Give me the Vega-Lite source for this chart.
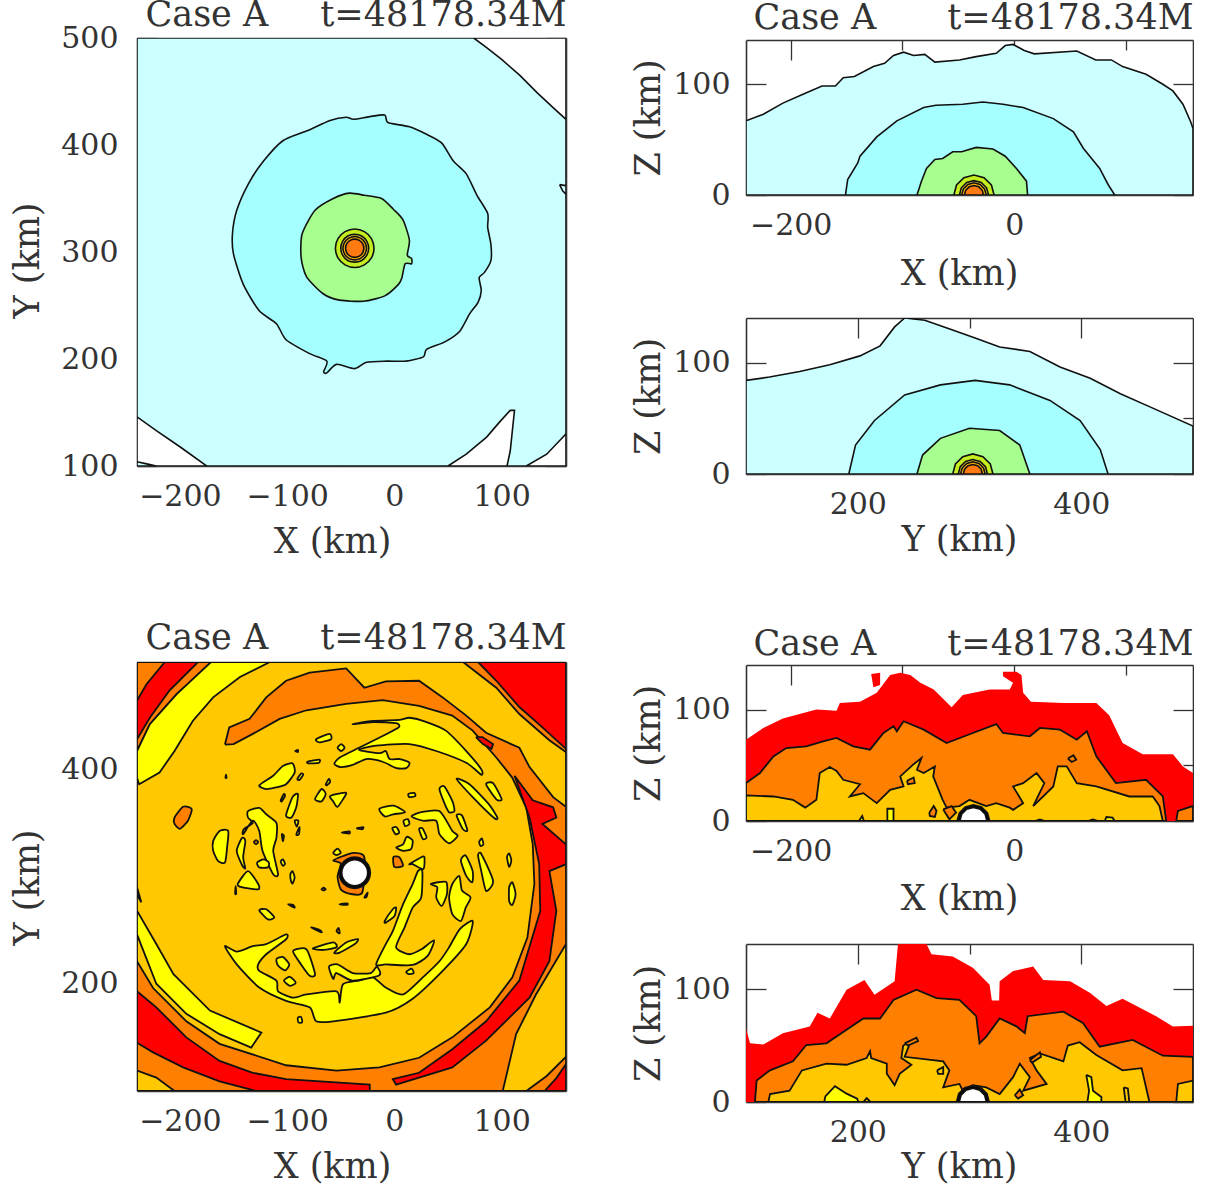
{"$schema":"https://vega.github.io/schema/vega-lite/v6.json","background":"white","padding":{"left":10,"top":-3,"right":0,"bottom":0},
"config":{"font":"DejaVu Serif","view":{"stroke":null},
"axis":{"grid":false,"domain":false,"labels":false,"tickColor":"#333","tickWidth":1.3,"domainColor":"#333","domainWidth":1.6,"labelFont":"DejaVu Serif","labelFontSize":30,"labelColor":"#333","labelPadding":35,"labelOverlap":false,"titleFont":"DejaVu Serif","titleFontSize":35,"titleFontWeight":"normal","titleColor":"#333","titlePadding":14,"zindex":1}},
"datasets":{"ax":[{"x":120,"y":120}],
"pA":[{"k":1,"c":"a","x":-240,"y":100},{"k":1,"c":"a","x":160,"y":100},{"k":1,"c":"a","x":160,"y":500},{"k":1,"c":"a","x":-240,"y":500},{"k":1,"c":"a","x":-240,"y":100},
{"k":2,"c":"w","x":74,"y":500},{"k":2,"c":"w","x":86,"y":491},{"k":2,"c":"w","x":100,"y":480},{"k":2,"c":"w","x":117,"y":465},{"k":2,"c":"w","x":133,"y":449},{"k":2,"c":"w","x":148,"y":435},{"k":2,"c":"w","x":160,"y":424},{"k":2,"c":"w","x":160,"y":500},{"k":2,"c":"w","x":74,"y":500},
{"k":3,"c":"w","x":-240,"y":146},{"k":3,"c":"w","x":-222,"y":133},{"k":3,"c":"w","x":-200,"y":118},{"k":3,"c":"w","x":-175,"y":100},{"k":3,"c":"w","x":-240,"y":100},{"k":3,"c":"w","x":-240,"y":146},
{"k":4,"c":"a","x":-240,"y":104},{"k":4,"c":"a","x":-231,"y":102},{"k":4,"c":"a","x":-222,"y":100},{"k":4,"c":"a","x":-240,"y":100},{"k":4,"c":"a","x":-240,"y":104},
{"k":5,"c":"w","x":50,"y":100},{"k":5,"c":"w","x":67,"y":111},{"k":5,"c":"w","x":86,"y":127},{"k":5,"c":"w","x":98,"y":141},{"k":5,"c":"w","x":108,"y":152},{"k":5,"c":"w","x":112,"y":152},{"k":5,"c":"w","x":110,"y":133},{"k":5,"c":"w","x":108,"y":114},{"k":5,"c":"w","x":105,"y":100},{"k":5,"c":"w","x":50,"y":100},
{"k":6,"c":"w","x":123,"y":100},{"k":6,"c":"w","x":142,"y":111},{"k":6,"c":"w","x":160,"y":130},{"k":6,"c":"w","x":160,"y":100},{"k":6,"c":"w","x":123,"y":100},
{"k":7,"c":"a","x":154,"y":363},{"k":7,"c":"a","x":160,"y":362},{"k":7,"c":"a","x":160,"y":354},{"k":7,"c":"a","x":157,"y":357},{"k":7,"c":"a","x":154,"y":363},
{"k":8,"c":"b","x":-45,"y":426},{"k":8,"c":"b","x":-38,"y":424},{"k":8,"c":"b","x":-23,"y":426.5},{"k":8,"c":"b","x":-9,"y":428},{"k":8,"c":"b","x":-6,"y":421},{"k":8,"c":"b","x":14,"y":417},{"k":8,"c":"b","x":30,"y":410},{"k":8,"c":"b","x":44,"y":402},{"k":8,"c":"b","x":55,"y":385},{"k":8,"c":"b","x":67,"y":373},{"k":8,"c":"b","x":77,"y":353},{"k":8,"c":"b","x":87,"y":336},{"k":8,"c":"b","x":87,"y":323},{"k":8,"c":"b","x":90,"y":307},{"k":8,"c":"b","x":90,"y":292},{"k":8,"c":"b","x":84,"y":281},{"k":8,"c":"b","x":79,"y":276},{"k":8,"c":"b","x":81,"y":264},{"k":8,"c":"b","x":78,"y":253},{"k":8,"c":"b","x":70,"y":242},{"k":8,"c":"b","x":61,"y":226},{"k":8,"c":"b","x":47,"y":216},{"k":8,"c":"b","x":30,"y":209},{"k":8,"c":"b","x":27,"y":202},{"k":8,"c":"b","x":11,"y":198},{"k":8,"c":"b","x":-7,"y":198},{"k":8,"c":"b","x":-26,"y":197},{"k":8,"c":"b","x":-37,"y":191},{"k":8,"c":"b","x":-54,"y":195},{"k":8,"c":"b","x":-63,"y":187},{"k":8,"c":"b","x":-66,"y":188},{"k":8,"c":"b","x":-63,"y":198},{"k":8,"c":"b","x":-79,"y":205},{"k":8,"c":"b","x":-101,"y":218},{"k":8,"c":"b","x":-110,"y":233},{"k":8,"c":"b","x":-126,"y":245},{"k":8,"c":"b","x":-141,"y":270},{"k":8,"c":"b","x":-150,"y":298},{"k":8,"c":"b","x":-151,"y":317},{"k":8,"c":"b","x":-147,"y":339},{"k":8,"c":"b","x":-136,"y":364},{"k":8,"c":"b","x":-122,"y":385},{"k":8,"c":"b","x":-104,"y":404},{"k":8,"c":"b","x":-82,"y":413},{"k":8,"c":"b","x":-60,"y":423},
{"k":9,"c":"g","x":-42,"y":355},{"k":9,"c":"g","x":-28,"y":353},{"k":9,"c":"g","x":-12,"y":350},{"k":9,"c":"g","x":-1,"y":340},{"k":9,"c":"g","x":8,"y":330},{"k":9,"c":"g","x":14,"y":311},{"k":9,"c":"g","x":12,"y":297},{"k":9,"c":"g","x":16,"y":294},{"k":9,"c":"g","x":16,"y":289},{"k":9,"c":"g","x":10,"y":289},{"k":9,"c":"g","x":7,"y":276},{"k":9,"c":"g","x":4,"y":270},{"k":9,"c":"g","x":-9,"y":259},{"k":9,"c":"g","x":-29,"y":254},{"k":9,"c":"g","x":-51,"y":255},{"k":9,"c":"g","x":-66.5,"y":261},{"k":9,"c":"g","x":-82,"y":277},{"k":9,"c":"g","x":-87,"y":295},{"k":9,"c":"g","x":-86,"y":317},{"k":9,"c":"g","x":-74,"y":339},{"k":9,"c":"g","x":-57,"y":350},
{"k":10,"c":"l","x":-19,"y":303.5},{"k":10,"c":"l","x":-21.4,"y":312.5},{"k":10,"c":"l","x":-28,"y":319},{"k":10,"c":"l","x":-37,"y":321.5},{"k":10,"c":"l","x":-46,"y":319},{"k":10,"c":"l","x":-52.6,"y":312.5},{"k":10,"c":"l","x":-55,"y":303.5},{"k":10,"c":"l","x":-52.6,"y":294.5},{"k":10,"c":"l","x":-46,"y":288},{"k":10,"c":"l","x":-37,"y":285.5},{"k":10,"c":"l","x":-28,"y":288},{"k":10,"c":"l","x":-21.4,"y":294.5},
{"k":11,"c":"t","x":-24,"y":303.5},{"k":11,"c":"t","x":-25.7,"y":310},{"k":11,"c":"t","x":-30.5,"y":315},{"k":11,"c":"t","x":-37,"y":316.5},{"k":11,"c":"t","x":-43.5,"y":315},{"k":11,"c":"t","x":-48.3,"y":310},{"k":11,"c":"t","x":-50,"y":303.5},{"k":11,"c":"t","x":-48.3,"y":297},{"k":11,"c":"t","x":-43.5,"y":292},{"k":11,"c":"t","x":-37,"y":290.5},{"k":11,"c":"t","x":-30.5,"y":292},{"k":11,"c":"t","x":-25.7,"y":297},
{"k":12,"c":"u","x":-26,"y":303.5},{"k":12,"c":"u","x":-27.5,"y":309},{"k":12,"c":"u","x":-31.5,"y":313},{"k":12,"c":"u","x":-37,"y":314.5},{"k":12,"c":"u","x":-42.5,"y":313},{"k":12,"c":"u","x":-46.5,"y":309},{"k":12,"c":"u","x":-48,"y":303.5},{"k":12,"c":"u","x":-46.5,"y":298},{"k":12,"c":"u","x":-42.5,"y":294},{"k":12,"c":"u","x":-37,"y":292.5},{"k":12,"c":"u","x":-31.5,"y":294},{"k":12,"c":"u","x":-27.5,"y":298},
{"k":13,"c":"v","x":-28.5,"y":303.5},{"k":13,"c":"v","x":-29.6,"y":307.75},{"k":13,"c":"v","x":-32.75,"y":310.9},{"k":13,"c":"v","x":-37,"y":312},{"k":13,"c":"v","x":-41.25,"y":310.9},{"k":13,"c":"v","x":-44.4,"y":307.75},{"k":13,"c":"v","x":-45.5,"y":303.5},{"k":13,"c":"v","x":-44.4,"y":299.25},{"k":13,"c":"v","x":-41.25,"y":296.1},{"k":13,"c":"v","x":-37,"y":295},{"k":13,"c":"v","x":-32.75,"y":296.1},{"k":13,"c":"v","x":-29.6,"y":299.25}],
"pB":[{"k":1,"c":"a","x":-240,"y":67},{"k":1,"c":"a","x":-224.5,"y":73},{"k":1,"c":"a","x":-207,"y":83},{"k":1,"c":"a","x":-189,"y":91},{"k":1,"c":"a","x":-172,"y":98.5},{"k":1,"c":"a","x":-160,"y":98.5},{"k":1,"c":"a","x":-153,"y":106},{"k":1,"c":"a","x":-143,"y":107},{"k":1,"c":"a","x":-126,"y":116},{"k":1,"c":"a","x":-116,"y":119},{"k":1,"c":"a","x":-108,"y":126},{"k":1,"c":"a","x":-99,"y":129},{"k":1,"c":"a","x":-90,"y":126},{"k":1,"c":"a","x":-80,"y":127},{"k":1,"c":"a","x":-71,"y":120},{"k":1,"c":"a","x":-49,"y":122},{"k":1,"c":"a","x":-34,"y":125},{"k":1,"c":"a","x":-16,"y":128},{"k":1,"c":"a","x":-8,"y":135},{"k":1,"c":"a","x":-1,"y":136},{"k":1,"c":"a","x":9,"y":130.5},{"k":1,"c":"a","x":18,"y":127.5},{"k":1,"c":"a","x":56,"y":130},{"k":1,"c":"a","x":73,"y":122},{"k":1,"c":"a","x":87,"y":122},{"k":1,"c":"a","x":97,"y":116},{"k":1,"c":"a","x":118,"y":109},{"k":1,"c":"a","x":133,"y":100},{"k":1,"c":"a","x":142,"y":94},{"k":1,"c":"a","x":151,"y":82},{"k":1,"c":"a","x":158,"y":66},{"k":1,"c":"a","x":160,"y":60},{"k":1,"c":"a","x":160,"y":0},{"k":1,"c":"a","x":-240,"y":0},{"k":1,"c":"a","x":-240,"y":67},
{"k":2,"c":"b","x":-151,"y":0},{"k":2,"c":"b","x":-149,"y":14},{"k":2,"c":"b","x":-140,"y":29},{"k":2,"c":"b","x":-138,"y":35},{"k":2,"c":"b","x":-123,"y":52.5},{"k":2,"c":"b","x":-105,"y":67},{"k":2,"c":"b","x":-81,"y":79},{"k":2,"c":"b","x":-70,"y":81},{"k":2,"c":"b","x":-46,"y":82},{"k":2,"c":"b","x":-28,"y":84},{"k":2,"c":"b","x":-10,"y":82},{"k":2,"c":"b","x":8,"y":79},{"k":2,"c":"b","x":35,"y":69},{"k":2,"c":"b","x":53,"y":57},{"k":2,"c":"b","x":62,"y":42},{"k":2,"c":"b","x":76.5,"y":24},{"k":2,"c":"b","x":84,"y":9.5},{"k":2,"c":"b","x":90,"y":0},{"k":2,"c":"b","x":-151,"y":0},
{"k":3,"c":"g","x":-87,"y":0},{"k":3,"c":"g","x":-83,"y":12.5},{"k":3,"c":"g","x":-78.5,"y":24},{"k":3,"c":"g","x":-71,"y":32},{"k":3,"c":"g","x":-64,"y":33},{"k":3,"c":"g","x":-55,"y":39},{"k":3,"c":"g","x":-47,"y":39},{"k":3,"c":"g","x":-34,"y":43},{"k":3,"c":"g","x":-19,"y":41.5},{"k":3,"c":"g","x":-8,"y":35},{"k":3,"c":"g","x":2,"y":24},{"k":3,"c":"g","x":11,"y":12.5},{"k":3,"c":"g","x":12,"y":0},{"k":3,"c":"g","x":-87,"y":0},
{"k":4,"c":"l","x":-18,"y":0},{"k":4,"c":"l","x":-20.4,"y":9},{"k":4,"c":"l","x":-27,"y":15.6},{"k":4,"c":"l","x":-36,"y":18},{"k":4,"c":"l","x":-45,"y":15.6},{"k":4,"c":"l","x":-51.6,"y":9},{"k":4,"c":"l","x":-54,"y":0},{"k":4,"c":"l","x":-18,"y":0},
{"k":5,"c":"t","x":-23,"y":0},{"k":5,"c":"t","x":-24.7,"y":6.5},{"k":5,"c":"t","x":-29.5,"y":11.3},{"k":5,"c":"t","x":-36,"y":13},{"k":5,"c":"t","x":-42.5,"y":11.3},{"k":5,"c":"t","x":-47.3,"y":6.5},{"k":5,"c":"t","x":-49,"y":0},{"k":5,"c":"t","x":-23,"y":0},
{"k":6,"c":"u","x":-25,"y":0},{"k":6,"c":"u","x":-26.5,"y":5.5},{"k":6,"c":"u","x":-30.5,"y":9.5},{"k":6,"c":"u","x":-36,"y":11},{"k":6,"c":"u","x":-41.5,"y":9.5},{"k":6,"c":"u","x":-45.5,"y":5.5},{"k":6,"c":"u","x":-47,"y":0},{"k":6,"c":"u","x":-25,"y":0},
{"k":7,"c":"v","x":-27.5,"y":0},{"k":7,"c":"v","x":-28.6,"y":4.25},{"k":7,"c":"v","x":-31.75,"y":7.4},{"k":7,"c":"v","x":-36,"y":8.5},{"k":7,"c":"v","x":-40.25,"y":7.4},{"k":7,"c":"v","x":-43.4,"y":4.25},{"k":7,"c":"v","x":-44.5,"y":0},{"k":7,"c":"v","x":-27.5,"y":0}],
"pC":[{"k":1,"c":"a","x":100,"y":84},{"k":1,"c":"a","x":121,"y":87},{"k":1,"c":"a","x":148,"y":92},{"k":1,"c":"a","x":175,"y":98},{"k":1,"c":"a","x":202,"y":106},{"k":1,"c":"a","x":220,"y":115},{"k":1,"c":"a","x":233,"y":132},{"k":1,"c":"a","x":242,"y":140},{"k":1,"c":"a","x":260,"y":138},{"k":1,"c":"a","x":283,"y":130},{"k":1,"c":"a","x":305,"y":122},{"k":1,"c":"a","x":327,"y":114},{"k":1,"c":"a","x":354,"y":110},{"k":1,"c":"a","x":381,"y":96},{"k":1,"c":"a","x":408,"y":86},{"k":1,"c":"a","x":435,"y":72},{"k":1,"c":"a","x":462,"y":60},{"k":1,"c":"a","x":500,"y":43},{"k":1,"c":"a","x":500,"y":0},{"k":1,"c":"a","x":100,"y":0},{"k":1,"c":"a","x":100,"y":84},
{"k":2,"c":"b","x":192,"y":0},{"k":2,"c":"b","x":198,"y":26},{"k":2,"c":"b","x":215,"y":48},{"k":2,"c":"b","x":242,"y":71},{"k":2,"c":"b","x":274,"y":80},{"k":2,"c":"b","x":305,"y":84},{"k":2,"c":"b","x":336,"y":80},{"k":2,"c":"b","x":372,"y":66},{"k":2,"c":"b","x":399,"y":48},{"k":2,"c":"b","x":417,"y":22},{"k":2,"c":"b","x":424,"y":0},{"k":2,"c":"b","x":192,"y":0},
{"k":3,"c":"g","x":253,"y":0},{"k":3,"c":"g","x":258,"y":17},{"k":3,"c":"g","x":274,"y":32},{"k":3,"c":"g","x":300,"y":41},{"k":3,"c":"g","x":327,"y":39},{"k":3,"c":"g","x":345,"y":26},{"k":3,"c":"g","x":354,"y":0},{"k":3,"c":"g","x":253,"y":0},
{"k":4,"c":"l","x":321,"y":0},{"k":4,"c":"l","x":318.6,"y":9},{"k":4,"c":"l","x":312,"y":15.6},{"k":4,"c":"l","x":303,"y":18},{"k":4,"c":"l","x":294,"y":15.6},{"k":4,"c":"l","x":287.4,"y":9},{"k":4,"c":"l","x":285,"y":0},{"k":4,"c":"l","x":321,"y":0},
{"k":5,"c":"t","x":316,"y":0},{"k":5,"c":"t","x":314.3,"y":6.5},{"k":5,"c":"t","x":309.5,"y":11.3},{"k":5,"c":"t","x":303,"y":13},{"k":5,"c":"t","x":296.5,"y":11.3},{"k":5,"c":"t","x":291.7,"y":6.5},{"k":5,"c":"t","x":290,"y":0},{"k":5,"c":"t","x":316,"y":0},
{"k":6,"c":"u","x":314,"y":0},{"k":6,"c":"u","x":312.5,"y":5.5},{"k":6,"c":"u","x":308.5,"y":9.5},{"k":6,"c":"u","x":303,"y":11},{"k":6,"c":"u","x":297.5,"y":9.5},{"k":6,"c":"u","x":293.5,"y":5.5},{"k":6,"c":"u","x":292,"y":0},{"k":6,"c":"u","x":314,"y":0},
{"k":7,"c":"v","x":311.5,"y":0},{"k":7,"c":"v","x":310.4,"y":4.25},{"k":7,"c":"v","x":307.25,"y":7.4},{"k":7,"c":"v","x":303,"y":8.5},{"k":7,"c":"v","x":298.75,"y":7.4},{"k":7,"c":"v","x":295.6,"y":4.25},{"k":7,"c":"v","x":294.5,"y":0},{"k":7,"c":"v","x":311.5,"y":0}],
"pD":[{"k":1,"c":"m","x":-240,"y":100},{"k":1,"c":"m","x":160,"y":100},{"k":1,"c":"m","x":160,"y":500},{"k":1,"c":"m","x":-240,"y":500},{"k":1,"c":"m","x":-240,"y":100},
{"k":2,"c":"o","x":-158,"y":423},{"k":2,"c":"o","x":-154,"y":439},{"k":2,"c":"o","x":-135,"y":447},{"k":2,"c":"o","x":-119.5,"y":467},{"k":2,"c":"o","x":-101,"y":482.5},{"k":2,"c":"o","x":-79,"y":490},{"k":2,"c":"o","x":-45,"y":494},{"k":2,"c":"o","x":-28,"y":476},{"k":2,"c":"o","x":-8,"y":482},{"k":2,"c":"o","x":23,"y":482.5},{"k":2,"c":"o","x":45,"y":467},{"k":2,"c":"o","x":67,"y":450},{"k":2,"c":"o","x":85.5,"y":434},{"k":2,"c":"o","x":116.5,"y":420},{"k":2,"c":"o","x":126,"y":402},{"k":2,"c":"o","x":148,"y":374},{"k":2,"c":"o","x":160,"y":365},{"k":2,"c":"o","x":160,"y":237},{"k":2,"c":"o","x":132,"y":190},{"k":2,"c":"o","x":113.5,"y":153},{"k":2,"c":"o","x":101,"y":100},{"k":2,"c":"o","x":-205,"y":100},{"k":2,"c":"o","x":-222,"y":112.5},{"k":2,"c":"o","x":-240,"y":119},{"k":2,"c":"o","x":-240,"y":221},{"k":2,"c":"o","x":-225,"y":196},{"k":2,"c":"o","x":-194,"y":165},{"k":2,"c":"o","x":-163,"y":144},{"k":2,"c":"o","x":-101,"y":124},{"k":2,"c":"o","x":-54,"y":119},{"k":2,"c":"o","x":-14,"y":122},{"k":2,"c":"o","x":23,"y":131},{"k":2,"c":"o","x":54,"y":150},{"k":2,"c":"o","x":89,"y":178},{"k":2,"c":"o","x":110,"y":206},{"k":2,"c":"o","x":124,"y":243},{"k":2,"c":"o","x":130.5,"y":293},{"k":2,"c":"o","x":129,"y":330},{"k":2,"c":"o","x":123,"y":364},{"k":2,"c":"o","x":110,"y":392},{"k":2,"c":"o","x":95,"y":411},{"k":2,"c":"o","x":73,"y":436},{"k":2,"c":"o","x":54,"y":450},{"k":2,"c":"o","x":23,"y":459},{"k":2,"c":"o","x":-11,"y":464.5},{"k":2,"c":"o","x":-45,"y":461},{"k":2,"c":"o","x":-82,"y":455},{"k":2,"c":"o","x":-107,"y":447},{"k":2,"c":"o","x":-132,"y":433},{"k":2,"c":"o","x":-150,"y":423.5},{"k":2,"c":"o","x":-158,"y":423},
{"k":3,"c":"r","x":112,"y":394},{"k":3,"c":"r","x":129,"y":371},{"k":3,"c":"r","x":148,"y":364.5},{"k":3,"c":"r","x":151,"y":355},{"k":3,"c":"r","x":138,"y":349},{"k":3,"c":"r","x":160,"y":330},{"k":3,"c":"r","x":160,"y":311.5},{"k":3,"c":"r","x":144.5,"y":305},{"k":3,"c":"r","x":151,"y":268},{"k":3,"c":"r","x":144.5,"y":221},{"k":3,"c":"r","x":126,"y":187},{"k":3,"c":"r","x":85.5,"y":147},{"k":3,"c":"r","x":54,"y":122},{"k":3,"c":"r","x":1.6,"y":106},{"k":3,"c":"r","x":-1.5,"y":111},{"k":3,"c":"r","x":23,"y":117},{"k":3,"c":"r","x":54,"y":139},{"k":3,"c":"r","x":85.5,"y":165},{"k":3,"c":"r","x":116.5,"y":203},{"k":3,"c":"r","x":136,"y":268},{"k":3,"c":"r","x":135,"y":311.5},{"k":3,"c":"r","x":126,"y":355},{"k":3,"c":"r","x":112,"y":394},
{"k":4,"c":"r","x":-240,"y":193},{"k":4,"c":"r","x":-222,"y":178},{"k":4,"c":"r","x":-194,"y":150},{"k":4,"c":"r","x":-163,"y":128},{"k":4,"c":"r","x":-132,"y":117},{"k":4,"c":"r","x":-101,"y":111},{"k":4,"c":"r","x":-23,"y":106},{"k":4,"c":"r","x":-23,"y":100},{"k":4,"c":"r","x":-129,"y":100},{"k":4,"c":"r","x":-163,"y":109},{"k":4,"c":"r","x":-197,"y":122},{"k":4,"c":"r","x":-225,"y":136},{"k":4,"c":"r","x":-240,"y":145},{"k":4,"c":"r","x":-240,"y":193},
{"k":5,"c":"o","x":-240,"y":500},{"k":5,"c":"o","x":-169,"y":500},{"k":5,"c":"o","x":-203,"y":470},{"k":5,"c":"o","x":-228,"y":442},{"k":5,"c":"o","x":-240,"y":417},{"k":5,"c":"o","x":-240,"y":500},
{"k":6,"c":"y","x":-171,"y":500},{"k":6,"c":"y","x":-116,"y":500},{"k":6,"c":"y","x":-144,"y":486},{"k":6,"c":"y","x":-169,"y":467},{"k":6,"c":"y","x":-188,"y":445},{"k":6,"c":"y","x":-205,"y":417},{"k":6,"c":"y","x":-219,"y":397},{"k":6,"c":"y","x":-238,"y":386},{"k":6,"c":"y","x":-240,"y":392},{"k":6,"c":"y","x":-240,"y":417},{"k":6,"c":"y","x":-228,"y":442},{"k":6,"c":"y","x":-203,"y":470},{"k":6,"c":"y","x":-171,"y":500},
{"k":7,"c":"r","x":-214,"y":500},{"k":7,"c":"r","x":-183,"y":500},{"k":7,"c":"r","x":-210,"y":473},{"k":7,"c":"r","x":-228,"y":448},{"k":7,"c":"r","x":-240,"y":428},{"k":7,"c":"r","x":-240,"y":464},{"k":7,"c":"r","x":-231,"y":479.5},{"k":7,"c":"r","x":-214,"y":500},
{"k":8,"c":"o","x":64,"y":500},{"k":8,"c":"o","x":160,"y":500},{"k":8,"c":"o","x":160,"y":416},{"k":8,"c":"o","x":144.5,"y":427},{"k":8,"c":"o","x":116.5,"y":451.5},{"k":8,"c":"o","x":95,"y":476},{"k":8,"c":"o","x":64,"y":500},
{"k":9,"c":"r","x":78,"y":500},{"k":9,"c":"r","x":160,"y":500},{"k":9,"c":"r","x":160,"y":419},{"k":9,"c":"r","x":138,"y":439},{"k":9,"c":"r","x":116.5,"y":458},{"k":9,"c":"r","x":95,"y":482.5},{"k":9,"c":"r","x":78,"y":500},
{"k":10,"c":"r","x":76,"y":430},{"k":10,"c":"r","x":82,"y":430},{"k":10,"c":"r","x":92,"y":423.5},{"k":10,"c":"r","x":90.5,"y":419},{"k":10,"c":"r","x":82.5,"y":423.5},{"k":10,"c":"r","x":76,"y":430},
{"k":11,"c":"o","x":123,"y":100},{"k":11,"c":"o","x":142,"y":114},{"k":11,"c":"o","x":160,"y":132},{"k":11,"c":"o","x":160,"y":100},{"k":11,"c":"o","x":123,"y":100},
{"k":12,"c":"r","x":140,"y":100},{"k":12,"c":"r","x":151,"y":112},{"k":12,"c":"r","x":160,"y":125},{"k":12,"c":"r","x":160,"y":100},{"k":12,"c":"r","x":140,"y":100},
{"k":13,"c":"y","x":-240,"y":268},{"k":13,"c":"y","x":-222,"y":237},{"k":13,"c":"y","x":-206,"y":209},{"k":13,"c":"y","x":-172,"y":175},{"k":13,"c":"y","x":-124,"y":154.5},{"k":13,"c":"y","x":-133.5,"y":140.5},{"k":13,"c":"y","x":-163,"y":153},{"k":13,"c":"y","x":-194,"y":172},{"k":13,"c":"y","x":-222,"y":200},{"k":13,"c":"y","x":-240,"y":246},{"k":13,"c":"y","x":-240,"y":268},
{"k":14,"c":"y","x":-240,"y":290},{"k":14,"c":"y","x":-236,"y":276},{"k":14,"c":"y","x":-240,"y":283},{"k":14,"c":"y","x":-240,"y":290},
{"k":15,"c":"o","x":-205,"y":355},{"k":15,"c":"o","x":-197,"y":365},{"k":15,"c":"o","x":-189,"y":363},{"k":15,"c":"o","x":-192.5,"y":352},{"k":15,"c":"o","x":-200,"y":344.5},{"k":15,"c":"o","x":-205,"y":349},
{"k":16,"c":"y","x":-39,"y":442},{"k":16,"c":"y","x":-20,"y":444},{"k":16,"c":"y","x":1.6,"y":443},{"k":16,"c":"y","x":4,"y":439},{"k":16,"c":"y","x":-11,"y":431},{"k":16,"c":"y","x":-33,"y":420},{"k":16,"c":"y","x":-51,"y":411},{"k":16,"c":"y","x":-56,"y":405},{"k":16,"c":"y","x":-50,"y":402},{"k":16,"c":"y","x":-39,"y":404},{"k":16,"c":"y","x":-26,"y":409.5},{"k":16,"c":"y","x":-11,"y":407},{"k":16,"c":"y","x":2,"y":401},{"k":16,"c":"y","x":11,"y":401},{"k":16,"c":"y","x":14,"y":406},{"k":16,"c":"y","x":5,"y":409.5},{"k":16,"c":"y","x":-4.5,"y":409.5},{"k":16,"c":"y","x":-8,"y":417},{"k":16,"c":"y","x":-14,"y":415},{"k":16,"c":"y","x":-33,"y":418},{"k":16,"c":"y","x":-17,"y":422},{"k":16,"c":"y","x":14,"y":423.5},{"k":16,"c":"y","x":39,"y":417},{"k":16,"c":"y","x":67,"y":406},{"k":16,"c":"y","x":81,"y":395},{"k":16,"c":"y","x":81,"y":400},{"k":16,"c":"y","x":67,"y":417},{"k":16,"c":"y","x":48,"y":436},{"k":16,"c":"y","x":30,"y":444},{"k":16,"c":"y","x":14,"y":448},{"k":16,"c":"y","x":5,"y":446},{"k":16,"c":"y","x":-20,"y":445},
{"k":17,"c":"y","x":-73,"y":428},{"k":17,"c":"y","x":-60.5,"y":433},{"k":17,"c":"y","x":-59,"y":428},{"k":17,"c":"y","x":-70,"y":425},
{"k":18,"c":"y","x":-53,"y":420},{"k":18,"c":"y","x":-49.5,"y":423.5},{"k":18,"c":"y","x":-46.5,"y":420},{"k":18,"c":"y","x":-49.5,"y":417},
{"k":19,"c":"y","x":-81,"y":407},{"k":19,"c":"y","x":-70,"y":409},{"k":19,"c":"y","x":-70.5,"y":406},{"k":19,"c":"y","x":-80,"y":405.5},
{"k":20,"c":"y","x":-126,"y":385},{"k":20,"c":"y","x":-113,"y":394},{"k":20,"c":"y","x":-104,"y":403},{"k":20,"c":"y","x":-95,"y":405.5},{"k":20,"c":"y","x":-93,"y":397},{"k":20,"c":"y","x":-101,"y":386},{"k":20,"c":"y","x":-110.5,"y":383},{"k":20,"c":"y","x":-119.5,"y":381.5},
{"k":21,"c":"y","x":-90.5,"y":391},{"k":21,"c":"y","x":-87,"y":396},{"k":21,"c":"y","x":-85,"y":395},{"k":21,"c":"y","x":-88.5,"y":390},
{"k":22,"c":"y","x":-64,"y":386},{"k":22,"c":"y","x":-61,"y":391},{"k":22,"c":"y","x":-60,"y":388},{"k":22,"c":"y","x":-63,"y":385},
{"k":23,"c":"y","x":-74,"y":372},{"k":23,"c":"y","x":-68,"y":381.5},{"k":23,"c":"y","x":-64,"y":377},{"k":23,"c":"y","x":-68,"y":370},
{"k":24,"c":"y","x":-60,"y":375},{"k":24,"c":"y","x":-48,"y":378},{"k":24,"c":"y","x":-45,"y":377},{"k":24,"c":"y","x":-53,"y":365},{"k":24,"c":"y","x":-57,"y":370},
{"k":25,"c":"y","x":-106,"y":371},{"k":25,"c":"y","x":-103,"y":377},{"k":25,"c":"y","x":-102,"y":375},{"k":25,"c":"y","x":-105,"y":370},
{"k":26,"c":"y","x":-101,"y":357},{"k":26,"c":"y","x":-95,"y":374},{"k":26,"c":"y","x":-90,"y":377},{"k":26,"c":"y","x":-91.5,"y":364.5},{"k":26,"c":"y","x":-96,"y":355},
{"k":27,"c":"y","x":-136.5,"y":361},{"k":27,"c":"y","x":-126,"y":364},{"k":27,"c":"y","x":-119.5,"y":358},{"k":27,"c":"y","x":-110,"y":350},{"k":27,"c":"y","x":-110,"y":336},{"k":27,"c":"y","x":-113,"y":324},{"k":27,"c":"y","x":-108.5,"y":302},{"k":27,"c":"y","x":-113,"y":302},{"k":27,"c":"y","x":-123,"y":324},{"k":27,"c":"y","x":-126,"y":342.5},{"k":27,"c":"y","x":-132,"y":352},{"k":27,"c":"y","x":-141,"y":339.5},{"k":27,"c":"y","x":-140.5,"y":344},{"k":27,"c":"y","x":-132,"y":350},{"k":27,"c":"y","x":-136.5,"y":355},
{"k":28,"c":"y","x":-169,"y":333},{"k":28,"c":"y","x":-163,"y":342.5},{"k":28,"c":"y","x":-155,"y":342.5},{"k":28,"c":"y","x":-156,"y":327},{"k":28,"c":"y","x":-158,"y":313},{"k":28,"c":"y","x":-164.5,"y":314.5},{"k":28,"c":"y","x":-169,"y":324},
{"k":29,"c":"y","x":-147,"y":324},{"k":29,"c":"y","x":-142,"y":336},{"k":29,"c":"y","x":-139,"y":333},{"k":29,"c":"y","x":-141,"y":318},{"k":29,"c":"y","x":-139,"y":307.5},{"k":29,"c":"y","x":-142,"y":310.5},
{"k":30,"c":"y","x":-128,"y":313},{"k":30,"c":"y","x":-122,"y":316},{"k":30,"c":"y","x":-117,"y":313},{"k":30,"c":"y","x":-118,"y":308.5},{"k":30,"c":"y","x":-126,"y":308.5},
{"k":31,"c":"y","x":-146,"y":293},{"k":31,"c":"y","x":-136.5,"y":305},{"k":31,"c":"y","x":-127,"y":293},{"k":31,"c":"y","x":-127,"y":288},{"k":31,"c":"y","x":-142.5,"y":290},
{"k":32,"c":"y","x":-97,"y":302},{"k":32,"c":"y","x":-95,"y":305},{"k":32,"c":"y","x":-93,"y":299},{"k":32,"c":"y","x":-95,"y":293.5},{"k":32,"c":"y","x":-96.5,"y":296},
{"k":33,"c":"y","x":-14,"y":363},{"k":33,"c":"y","x":-1,"y":366},{"k":33,"c":"y","x":10,"y":360},{"k":33,"c":"y","x":-1,"y":358},{"k":33,"c":"y","x":-9,"y":356},
{"k":34,"c":"y","x":16,"y":356},{"k":34,"c":"y","x":25,"y":360},{"k":34,"c":"y","x":42,"y":361},{"k":34,"c":"y","x":54,"y":342.5},{"k":34,"c":"y","x":59,"y":338},{"k":34,"c":"y","x":51,"y":331},{"k":34,"c":"y","x":42,"y":339.5},{"k":34,"c":"y","x":39,"y":352},{"k":34,"c":"y","x":26.5,"y":352},
{"k":35,"c":"y","x":42,"y":381.5},{"k":35,"c":"y","x":46.5,"y":384},{"k":35,"c":"y","x":54,"y":370.5},{"k":35,"c":"y","x":56,"y":361},{"k":35,"c":"y","x":51,"y":360},{"k":35,"c":"y","x":47,"y":367.5},
{"k":36,"c":"y","x":58,"y":391},{"k":36,"c":"y","x":70,"y":386},{"k":36,"c":"y","x":88,"y":367.5},{"k":36,"c":"y","x":96,"y":355},{"k":36,"c":"y","x":93,"y":354.5},{"k":36,"c":"y","x":73,"y":374},
{"k":37,"c":"y","x":85.5,"y":386},{"k":37,"c":"y","x":92,"y":387},{"k":37,"c":"y","x":100,"y":372},{"k":37,"c":"y","x":95,"y":372},
{"k":38,"c":"y","x":58,"y":357},{"k":38,"c":"y","x":63,"y":357},{"k":38,"c":"y","x":68,"y":343},{"k":38,"c":"y","x":64,"y":344},
{"k":39,"c":"y","x":23,"y":344},{"k":39,"c":"y","x":26,"y":345},{"k":39,"c":"y","x":30,"y":336.5},{"k":39,"c":"y","x":26.5,"y":335},
{"k":40,"c":"y","x":8.5,"y":352},{"k":40,"c":"y","x":12.5,"y":353.5},{"k":40,"c":"y","x":14,"y":349},{"k":40,"c":"y","x":10,"y":347},
{"k":41,"c":"y","x":13,"y":377},{"k":41,"c":"y","x":18.5,"y":378},{"k":41,"c":"y","x":19.5,"y":375},{"k":41,"c":"y","x":14,"y":374},
{"k":42,"c":"y","x":-2,"y":345},{"k":42,"c":"y","x":2,"y":346},{"k":42,"c":"y","x":4.5,"y":341},{"k":42,"c":"y","x":1,"y":339.5},
{"k":43,"c":"y","x":1.6,"y":327},{"k":43,"c":"y","x":8,"y":330},{"k":43,"c":"y","x":11.5,"y":337},{"k":43,"c":"y","x":17,"y":333.5},{"k":43,"c":"y","x":15.5,"y":325.5},{"k":43,"c":"y","x":8,"y":324},
{"k":44,"c":"y","x":79,"y":332},{"k":44,"c":"y","x":81.5,"y":335.5},{"k":44,"c":"y","x":83,"y":330},{"k":44,"c":"y","x":80.5,"y":328.5},
{"k":45,"c":"y","x":14,"y":311.5},{"k":45,"c":"y","x":25,"y":318},{"k":45,"c":"y","x":28,"y":318},{"k":45,"c":"y","x":27,"y":307},{"k":45,"c":"y","x":17,"y":311.5},
{"k":46,"c":"y","x":22,"y":305},{"k":46,"c":"y","x":26,"y":305},{"k":46,"c":"y","x":25,"y":280.5},{"k":46,"c":"y","x":17,"y":271},{"k":46,"c":"y","x":9.5,"y":252.5},{"k":46,"c":"y","x":1.6,"y":234},{"k":46,"c":"y","x":14,"y":227.5},{"k":46,"c":"y","x":25,"y":232},{"k":46,"c":"y","x":37,"y":240.5},{"k":46,"c":"y","x":31,"y":226},{"k":46,"c":"y","x":17,"y":217.5},{"k":46,"c":"y","x":-8,"y":218},{"k":46,"c":"y","x":-17,"y":218},{"k":46,"c":"y","x":-8,"y":237},{"k":46,"c":"y","x":-1.5,"y":249},{"k":46,"c":"y","x":8,"y":274},{"k":46,"c":"y","x":17,"y":293},
{"k":47,"c":"y","x":34,"y":293},{"k":47,"c":"y","x":48,"y":295},{"k":47,"c":"y","x":49,"y":283.5},{"k":47,"c":"y","x":44,"y":272.5},{"k":47,"c":"y","x":39,"y":280.5},{"k":47,"c":"y","x":40,"y":290},
{"k":48,"c":"y","x":54,"y":293},{"k":48,"c":"y","x":60.5,"y":300.5},{"k":48,"c":"y","x":63,"y":287},{"k":48,"c":"y","x":71,"y":280.5},{"k":48,"c":"y","x":66.5,"y":271},{"k":48,"c":"y","x":62,"y":258.5},{"k":48,"c":"y","x":54,"y":265},{"k":48,"c":"y","x":51,"y":280.5},
{"k":49,"c":"y","x":62,"y":315},{"k":49,"c":"y","x":66.5,"y":319.5},{"k":49,"c":"y","x":73,"y":305},{"k":49,"c":"y","x":72.5,"y":294.5},{"k":49,"c":"y","x":67,"y":300.5},
{"k":50,"c":"y","x":78,"y":319.5},{"k":50,"c":"y","x":81,"y":321},{"k":50,"c":"y","x":92,"y":296},{"k":50,"c":"y","x":85.5,"y":286.5},{"k":50,"c":"y","x":81,"y":305},
{"k":51,"c":"y","x":105,"y":318},{"k":51,"c":"y","x":107,"y":321.5},{"k":51,"c":"y","x":109,"y":315},{"k":51,"c":"y","x":107,"y":309},
{"k":52,"c":"y","x":107,"y":290},{"k":52,"c":"y","x":110,"y":294.5},{"k":52,"c":"y","x":113,"y":283.5},{"k":52,"c":"y","x":110,"y":273.5},{"k":52,"c":"y","x":107,"y":277},
{"k":53,"c":"y","x":-9,"y":258.5},{"k":53,"c":"y","x":-1.5,"y":269.5},{"k":53,"c":"y","x":1.6,"y":271},{"k":53,"c":"y","x":0,"y":263},{"k":53,"c":"y","x":-8,"y":257},
{"k":54,"c":"y","x":-158,"y":235},{"k":54,"c":"y","x":-147,"y":218},{"k":54,"c":"y","x":-126,"y":196.5},{"k":54,"c":"y","x":-101,"y":184},{"k":54,"c":"y","x":-79,"y":178},{"k":54,"c":"y","x":-73,"y":165},{"k":54,"c":"y","x":-57,"y":165},{"k":54,"c":"y","x":-8,"y":173},{"k":54,"c":"y","x":17,"y":186},{"k":54,"c":"y","x":45,"y":212},{"k":54,"c":"y","x":67,"y":237},{"k":54,"c":"y","x":73,"y":258.5},{"k":54,"c":"y","x":61,"y":251},{"k":54,"c":"y","x":51,"y":234},{"k":54,"c":"y","x":42,"y":221},{"k":54,"c":"y","x":26.5,"y":206},{"k":54,"c":"y","x":8,"y":190},{"k":54,"c":"y","x":-8,"y":196.5},{"k":54,"c":"y","x":-20,"y":206},{"k":54,"c":"y","x":-33,"y":203},{"k":54,"c":"y","x":-48,"y":199.5},{"k":54,"c":"y","x":-51,"y":182.5},{"k":54,"c":"y","x":-54,"y":193},{"k":54,"c":"y","x":-82,"y":190},{"k":54,"c":"y","x":-94.5,"y":187},{"k":54,"c":"y","x":-108.5,"y":193},{"k":54,"c":"y","x":-110,"y":203},{"k":54,"c":"y","x":-126,"y":212},{"k":54,"c":"y","x":-127,"y":218},{"k":54,"c":"y","x":-119.5,"y":227.5},{"k":54,"c":"y","x":-101,"y":241.5},{"k":54,"c":"y","x":-101,"y":246},{"k":54,"c":"y","x":-119.5,"y":237},{"k":54,"c":"y","x":-132,"y":235},{"k":54,"c":"y","x":-147,"y":230},
{"k":55,"c":"y","x":-110,"y":223},{"k":55,"c":"y","x":-104,"y":225},{"k":55,"c":"y","x":-98,"y":218},{"k":55,"c":"y","x":-102,"y":212.5},{"k":55,"c":"y","x":-108.5,"y":217},
{"k":56,"c":"y","x":-94.5,"y":230.5},{"k":56,"c":"y","x":-82,"y":232},{"k":56,"c":"y","x":-74,"y":209},{"k":56,"c":"y","x":-79,"y":207.5},{"k":56,"c":"y","x":-87,"y":218},
{"k":57,"c":"y","x":-103,"y":203},{"k":57,"c":"y","x":-97.5,"y":206.5},{"k":57,"c":"y","x":-92,"y":201},{"k":57,"c":"y","x":-97.5,"y":198},
{"k":58,"c":"y","x":-61,"y":216},{"k":58,"c":"y","x":-53,"y":218},{"k":58,"c":"y","x":-39,"y":210},{"k":58,"c":"y","x":-22,"y":210},{"k":58,"c":"y","x":-16.5,"y":216},{"k":58,"c":"y","x":-14,"y":208},{"k":58,"c":"y","x":-39,"y":203},{"k":58,"c":"y","x":-54,"y":210},{"k":58,"c":"y","x":-57,"y":204.5},
{"k":59,"c":"y","x":-76,"y":233},{"k":59,"c":"y","x":-57,"y":238.5},{"k":59,"c":"y","x":-54,"y":234},{"k":59,"c":"y","x":-66,"y":231.5},
{"k":60,"c":"y","x":-56,"y":229},{"k":60,"c":"y","x":-45,"y":238.5},{"k":60,"c":"y","x":-34,"y":241.5},{"k":60,"c":"y","x":-37,"y":237},{"k":60,"c":"y","x":-51,"y":229},
{"k":61,"c":"y","x":11,"y":211},{"k":61,"c":"y","x":16,"y":214},{"k":61,"c":"y","x":18,"y":210},{"k":61,"c":"y","x":13.5,"y":209},
{"k":62,"c":"y","x":-126,"y":268.5},{"k":62,"c":"y","x":-119.5,"y":269.5},{"k":62,"c":"y","x":-112,"y":262},{"k":62,"c":"y","x":-118,"y":260},
{"k":63,"c":"y","x":-57,"y":322},{"k":63,"c":"y","x":-53,"y":326},{"k":63,"c":"y","x":-50,"y":322},{"k":63,"c":"y","x":-54,"y":320},
{"k":64,"c":"y","x":-90,"y":168.5},{"k":64,"c":"y","x":-87,"y":169},{"k":64,"c":"y","x":-86,"y":164},{"k":64,"c":"y","x":-89.5,"y":164},
{"k":65,"c":"o","x":-92.5,"y":417},{"k":65,"c":"o","x":-90,"y":418},{"k":65,"c":"o","x":-90,"y":416},
{"k":66,"c":"o","x":-157,"y":395},{"k":66,"c":"o","x":-156.5,"y":392},{"k":66,"c":"o","x":-157.5,"y":392},
{"k":67,"c":"o","x":-148,"y":291},{"k":67,"c":"o","x":-147.5,"y":284},{"k":67,"c":"o","x":-148.5,"y":284},
{"k":68,"c":"o","x":-68,"y":288},{"k":68,"c":"o","x":-66,"y":289.5},{"k":68,"c":"o","x":-64,"y":288},{"k":68,"c":"o","x":-66,"y":287},
{"k":69,"c":"o","x":-51,"y":274},{"k":69,"c":"o","x":-44,"y":275},{"k":69,"c":"o","x":-44,"y":273.5},
{"k":70,"c":"r","x":-49,"y":341},{"k":70,"c":"r","x":-42,"y":342},{"k":70,"c":"r","x":-42,"y":340},
{"k":71,"c":"r","x":-35,"y":345},{"k":71,"c":"r","x":-29,"y":346},{"k":71,"c":"r","x":-30,"y":344},
{"k":72,"c":"y","x":-106,"y":314},{"k":72,"c":"y","x":-104,"y":316},{"k":72,"c":"y","x":-102,"y":312},{"k":72,"c":"y","x":-104,"y":310},
{"k":73,"c":"o","x":-131,"y":332},{"k":73,"c":"o","x":-129,"y":334},{"k":73,"c":"o","x":-127,"y":332},{"k":73,"c":"o","x":-129,"y":330},
{"k":74,"c":"o","x":-1,"y":318},{"k":74,"c":"o","x":4.5,"y":318},{"k":74,"c":"o","x":8,"y":310},{"k":74,"c":"o","x":0,"y":309},
{"k":75,"c":"o","x":-77.5,"y":252.5},{"k":75,"c":"o","x":-68,"y":248},{"k":75,"c":"o","x":-69.5,"y":250},
{"k":76,"c":"o","x":-99,"y":274},{"k":76,"c":"o","x":-93,"y":271},{"k":76,"c":"o","x":-94.5,"y":273.5},
{"k":77,"c":"o","x":-28,"y":280.5},{"k":77,"c":"o","x":-25,"y":285},{"k":77,"c":"o","x":-26,"y":281},
{"k":78,"c":"o","x":-54,"y":249},{"k":78,"c":"o","x":-52,"y":252},{"k":78,"c":"o","x":-51,"y":247},
{"k":79,"c":"y","x":-93,"y":352},{"k":79,"c":"y","x":-89.5,"y":352},{"k":79,"c":"y","x":-91,"y":346.5},
{"k":80,"c":"y","x":-105,"y":339.5},{"k":80,"c":"y","x":-103,"y":338},{"k":80,"c":"y","x":-104,"y":333},
{"k":81,"c":"y","x":-91.5,"y":339},{"k":81,"c":"y","x":-88.5,"y":346},{"k":81,"c":"y","x":-89,"y":339.5},
{"k":82,"c":"o","x":-57,"y":315},{"k":82,"c":"o","x":-48,"y":319},{"k":82,"c":"o","x":-38,"y":322},{"k":82,"c":"o","x":-28,"y":318},{"k":82,"c":"o","x":-30,"y":285},{"k":82,"c":"o","x":-42,"y":284},{"k":82,"c":"o","x":-50,"y":288},{"k":82,"c":"o","x":-53,"y":300},{"k":82,"c":"o","x":-50,"y":312},
{"k":83,"c":"k","x":-22.5,"y":303.5},{"k":83,"c":"k","x":-24.4,"y":310.75},{"k":83,"c":"k","x":-29.75,"y":316.1},{"k":83,"c":"k","x":-37,"y":318},{"k":83,"c":"k","x":-44.25,"y":316.1},{"k":83,"c":"k","x":-49.6,"y":310.75},{"k":83,"c":"k","x":-51.5,"y":303.5},{"k":83,"c":"k","x":-49.6,"y":296.25},{"k":83,"c":"k","x":-44.25,"y":290.9},{"k":83,"c":"k","x":-37,"y":289},{"k":83,"c":"k","x":-29.75,"y":290.9},{"k":83,"c":"k","x":-24.4,"y":296.25},
{"k":84,"c":"w","x":-24.8,"y":303.5},{"k":84,"c":"w","x":-26.4,"y":309.6},{"k":84,"c":"w","x":-30.9,"y":314.1},{"k":84,"c":"w","x":-37,"y":315.7},{"k":84,"c":"w","x":-43.1,"y":314.1},{"k":84,"c":"w","x":-47.6,"y":309.6},{"k":84,"c":"w","x":-49.2,"y":303.5},{"k":84,"c":"w","x":-47.6,"y":297.4},{"k":84,"c":"w","x":-43.1,"y":292.9},{"k":84,"c":"w","x":-37,"y":291.3},{"k":84,"c":"w","x":-30.9,"y":292.9},{"k":84,"c":"w","x":-26.4,"y":297.4}],
"rE":[{"k":1,"x":-240,"y":73},{"k":1,"x":-224.5,"y":83.5},{"k":1,"x":-207,"y":92},{"k":1,"x":-177,"y":100},{"k":1,"x":-159,"y":99},{"k":1,"x":-156,"y":106},{"k":1,"x":-138,"y":107},{"k":1,"x":-123,"y":115},{"k":1,"x":-111,"y":131},{"k":1,"x":-102,"y":133},{"k":1,"x":-93,"y":131},{"k":1,"x":-84,"y":124},{"k":1,"x":-72,"y":118},{"k":1,"x":-56,"y":102},{"k":1,"x":-46,"y":113},{"k":1,"x":-22,"y":118},{"k":1,"x":-4,"y":118},{"k":1,"x":-1,"y":124},{"k":1,"x":-10,"y":130},{"k":1,"x":-10,"y":134},{"k":1,"x":2,"y":134},{"k":1,"x":6.5,"y":131},{"k":1,"x":8,"y":115},{"k":1,"x":15,"y":107},{"k":1,"x":44,"y":106},{"k":1,"x":73.5,"y":106},{"k":1,"x":85,"y":95},{"k":1,"x":97,"y":70},{"k":1,"x":115,"y":60},{"k":1,"x":142,"y":60},{"k":1,"x":151,"y":49},{"k":1,"x":160,"y":43},{"k":1,"x":160,"y":0},{"k":1,"x":-240,"y":0},{"k":1,"x":-240,"y":73},
{"k":2,"x":-128,"y":132},{"k":2,"x":-120,"y":133},{"k":2,"x":-120,"y":122},{"k":2,"x":-126,"y":120},{"k":2,"x":-128,"y":132}],
"pE":[{"k":1,"c":"o","x":-240,"y":34},{"k":1,"c":"o","x":-227.5,"y":43},{"k":1,"c":"o","x":-215.5,"y":58},{"k":1,"c":"o","x":-204,"y":65.5},{"k":1,"c":"o","x":-186,"y":67},{"k":1,"c":"o","x":-171,"y":71.5},{"k":1,"c":"o","x":-159,"y":74.5},{"k":1,"c":"o","x":-144,"y":67},{"k":1,"c":"o","x":-129,"y":64},{"k":1,"c":"o","x":-117,"y":79},{"k":1,"c":"o","x":-108,"y":85},{"k":1,"c":"o","x":-105,"y":80.5},{"k":1,"c":"o","x":-99,"y":89.5},{"k":1,"c":"o","x":-81,"y":82},{"k":1,"c":"o","x":-60.5,"y":70},{"k":1,"c":"o","x":-37,"y":79},{"k":1,"c":"o","x":-16,"y":87},{"k":1,"c":"o","x":-10,"y":79},{"k":1,"c":"o","x":14,"y":76},{"k":1,"c":"o","x":23,"y":83.5},{"k":1,"c":"o","x":41,"y":82},{"k":1,"c":"o","x":56,"y":73},{"k":1,"c":"o","x":65,"y":80.5},{"k":1,"c":"o","x":73.5,"y":58},{"k":1,"c":"o","x":91,"y":34},{"k":1,"c":"o","x":118,"y":37},{"k":1,"c":"o","x":133,"y":22},{"k":1,"c":"o","x":136,"y":0},{"k":1,"c":"o","x":-240,"y":0},{"k":1,"c":"o","x":-240,"y":34},
{"k":2,"c":"o","x":145,"y":0},{"k":2,"c":"o","x":146.5,"y":9},{"k":2,"c":"o","x":160,"y":13.4},{"k":2,"c":"o","x":160,"y":0},{"k":2,"c":"o","x":145,"y":0},
{"k":3,"c":"m","x":-240,"y":23},{"k":3,"c":"m","x":-215.5,"y":22},{"k":3,"c":"m","x":-198,"y":19},{"k":3,"c":"m","x":-187,"y":12},{"k":3,"c":"m","x":-177,"y":19},{"k":3,"c":"m","x":-174,"y":43},{"k":3,"c":"m","x":-165,"y":48.5},{"k":3,"c":"m","x":-159,"y":45},{"k":3,"c":"m","x":-153,"y":37},{"k":3,"c":"m","x":-138,"y":33},{"k":3,"c":"m","x":-147,"y":22},{"k":3,"c":"m","x":-135,"y":25},{"k":3,"c":"m","x":-123,"y":16},{"k":3,"c":"m","x":-111,"y":28},{"k":3,"c":"m","x":-99,"y":31},{"k":3,"c":"m","x":-102,"y":40},{"k":3,"c":"m","x":-90,"y":51},{"k":3,"c":"m","x":-83,"y":56.5},{"k":3,"c":"m","x":-87,"y":46},{"k":3,"c":"m","x":-81,"y":43},{"k":3,"c":"m","x":-71,"y":49},{"k":3,"c":"m","x":-72.5,"y":40},{"k":3,"c":"m","x":-64,"y":19},{"k":3,"c":"m","x":-60.5,"y":12},{"k":3,"c":"m","x":-49,"y":13.4},{"k":3,"c":"m","x":-40,"y":19},{"k":3,"c":"m","x":-25,"y":13.4},{"k":3,"c":"m","x":-16,"y":16},{"k":3,"c":"m","x":-4,"y":12},{"k":3,"c":"m","x":-1,"y":10},{"k":3,"c":"m","x":8,"y":16},{"k":3,"c":"m","x":-1,"y":31},{"k":3,"c":"m","x":8,"y":34},{"k":3,"c":"m","x":20,"y":43},{"k":3,"c":"m","x":27,"y":34},{"k":3,"c":"m","x":17,"y":13.4},{"k":3,"c":"m","x":35,"y":31},{"k":3,"c":"m","x":39,"y":49},{"k":3,"c":"m","x":47,"y":49},{"k":3,"c":"m","x":56,"y":34},{"k":3,"c":"m","x":73.5,"y":31},{"k":3,"c":"m","x":103,"y":22},{"k":3,"c":"m","x":124,"y":22},{"k":3,"c":"m","x":130,"y":13.4},{"k":3,"c":"m","x":133,"y":0},{"k":3,"c":"m","x":-240,"y":0},{"k":3,"c":"m","x":-240,"y":23},
{"k":4,"c":"o","x":48,"y":56},{"k":4,"c":"o","x":53,"y":59},{"k":4,"c":"o","x":55.5,"y":55},{"k":4,"c":"o","x":51.5,"y":53},{"k":4,"c":"o","x":48,"y":56},
{"k":5,"c":"y","x":-113.5,"y":0},{"k":5,"c":"y","x":-113.5,"y":11},{"k":5,"c":"y","x":-108,"y":11},{"k":5,"c":"y","x":-108,"y":0},{"k":5,"c":"y","x":-113.5,"y":0},
{"k":6,"c":"y","x":-139,"y":0},{"k":6,"c":"y","x":-136,"y":4.5},{"k":6,"c":"y","x":-134.5,"y":0},{"k":6,"c":"y","x":-139,"y":0},
{"k":7,"c":"o","x":-76,"y":7.5},{"k":7,"c":"o","x":-72,"y":13.4},{"k":7,"c":"o","x":-69.5,"y":9},{"k":7,"c":"o","x":-71,"y":3.6},{"k":7,"c":"o","x":-75.5,"y":4.5},{"k":7,"c":"o","x":-76,"y":7.5},
{"k":8,"c":"o","x":-96,"y":36},{"k":8,"c":"o","x":-90,"y":39},{"k":8,"c":"o","x":-89,"y":34},{"k":8,"c":"o","x":-95,"y":33},{"k":8,"c":"o","x":-96,"y":36},
{"k":9,"c":"k","x":18.5,"y":0},{"k":9,"c":"k","x":23,"y":1.5},{"k":9,"c":"k","x":27.5,"y":0},{"k":9,"c":"k","x":18.5,"y":0},
{"k":10,"c":"k","x":66,"y":0},{"k":10,"c":"k","x":70.5,"y":1.5},{"k":10,"c":"k","x":75,"y":0},{"k":10,"c":"k","x":66,"y":0},
{"k":11,"c":"y","x":81,"y":0},{"k":11,"c":"y","x":82.5,"y":3.6},{"k":11,"c":"y","x":88,"y":3},{"k":11,"c":"y","x":90,"y":0},{"k":11,"c":"y","x":81,"y":0},
{"k":12,"c":"o","x":-63.5,"y":10.4},{"k":12,"c":"o","x":-56,"y":13.4},{"k":12,"c":"o","x":-52,"y":7.5},{"k":12,"c":"o","x":-58,"y":1.5},{"k":12,"c":"o","x":-63.5,"y":10.4},
{"k":13,"c":"k","x":-22,"y":0},{"k":13,"c":"k","x":-24,"y":7.25},{"k":13,"c":"k","x":-29.25,"y":12.6},{"k":13,"c":"k","x":-36.5,"y":14.5},{"k":13,"c":"k","x":-43.75,"y":12.6},{"k":13,"c":"k","x":-49,"y":7.25},{"k":13,"c":"k","x":-51,"y":0},{"k":13,"c":"k","x":-22,"y":0},
{"k":14,"c":"w","x":-24.3,"y":0},{"k":14,"c":"w","x":-25.9,"y":6.1},{"k":14,"c":"w","x":-30.4,"y":10.6},{"k":14,"c":"w","x":-36.5,"y":12.2},{"k":14,"c":"w","x":-42.6,"y":10.6},{"k":14,"c":"w","x":-47.1,"y":6.1},{"k":14,"c":"w","x":-48.7,"y":0},{"k":14,"c":"w","x":-24.3,"y":0}],
"rF":[{"k":1,"x":100,"y":65},{"k":1,"x":103.6,"y":52},{"k":1,"x":115.5,"y":51},{"k":1,"x":133,"y":61},{"k":1,"x":157,"y":67},{"k":1,"x":164,"y":79},{"k":1,"x":175,"y":74},{"k":1,"x":190,"y":99.5},{"k":1,"x":206,"y":108},{"k":1,"x":215,"y":95},{"k":1,"x":233,"y":107},{"k":1,"x":236,"y":140},{"k":1,"x":261.5,"y":140},{"k":1,"x":266,"y":131},{"k":1,"x":285,"y":129},{"k":1,"x":303,"y":119},{"k":1,"x":318,"y":104},{"k":1,"x":320,"y":90},{"k":1,"x":326.5,"y":90},{"k":1,"x":327,"y":107},{"k":1,"x":339,"y":116},{"k":1,"x":357,"y":120},{"k":1,"x":366,"y":108},{"k":1,"x":390,"y":107},{"k":1,"x":408,"y":96.5},{"k":1,"x":422.5,"y":85},{"k":1,"x":437,"y":91.5},{"k":1,"x":467,"y":76},{"k":1,"x":482,"y":67},{"k":1,"x":500,"y":67.5},{"k":1,"x":500,"y":0},{"k":1,"x":100,"y":0},{"k":1,"x":100,"y":65}],
"pF":[{"k":1,"c":"o","x":108,"y":0},{"k":1,"c":"o","x":109.5,"y":19},{"k":1,"c":"o","x":121.5,"y":28},{"k":1,"c":"o","x":142,"y":36},{"k":1,"c":"o","x":154,"y":50.5},{"k":1,"c":"o","x":172,"y":52},{"k":1,"c":"o","x":190,"y":64},{"k":1,"c":"o","x":205,"y":74},{"k":1,"c":"o","x":220,"y":74},{"k":1,"c":"o","x":232,"y":90.5},{"k":1,"c":"o","x":252.5,"y":99.5},{"k":1,"c":"o","x":270.5,"y":92},{"k":1,"c":"o","x":291,"y":90.5},{"k":1,"c":"o","x":306,"y":76},{"k":1,"c":"o","x":309,"y":52},{"k":1,"c":"o","x":315,"y":58},{"k":1,"c":"o","x":327,"y":74},{"k":1,"c":"o","x":342,"y":67},{"k":1,"c":"o","x":349.5,"y":61},{"k":1,"c":"o","x":352,"y":76},{"k":1,"c":"o","x":384,"y":80},{"k":1,"c":"o","x":401.5,"y":70},{"k":1,"c":"o","x":416.5,"y":49},{"k":1,"c":"o","x":446,"y":55},{"k":1,"c":"o","x":473,"y":41},{"k":1,"c":"o","x":500,"y":40},{"k":1,"c":"o","x":500,"y":0},{"k":1,"c":"o","x":108,"y":0},
{"k":2,"c":"m","x":120,"y":0},{"k":2,"c":"m","x":121.5,"y":7},{"k":2,"c":"m","x":139,"y":10},{"k":2,"c":"m","x":150,"y":28},{"k":2,"c":"m","x":172,"y":34},{"k":2,"c":"m","x":190,"y":33},{"k":2,"c":"m","x":208,"y":39},{"k":2,"c":"m","x":211,"y":45},{"k":2,"c":"m","x":212,"y":39},{"k":2,"c":"m","x":226,"y":34},{"k":2,"c":"m","x":226,"y":25},{"k":2,"c":"m","x":233,"y":15},{"k":2,"c":"m","x":237.5,"y":25},{"k":2,"c":"m","x":248,"y":33},{"k":2,"c":"m","x":239,"y":39},{"k":2,"c":"m","x":240.7,"y":50},{"k":2,"c":"m","x":252.5,"y":56},{"k":2,"c":"m","x":246.6,"y":52},{"k":2,"c":"m","x":242,"y":40},{"k":2,"c":"m","x":276.5,"y":36},{"k":2,"c":"m","x":282,"y":28},{"k":2,"c":"m","x":276.5,"y":13},{"k":2,"c":"m","x":291,"y":16},{"k":2,"c":"m","x":294,"y":10},{"k":2,"c":"m","x":303,"y":15},{"k":2,"c":"m","x":315,"y":13},{"k":2,"c":"m","x":327,"y":7},{"k":2,"c":"m","x":339,"y":22},{"k":2,"c":"m","x":345,"y":34},{"k":2,"c":"m","x":354,"y":22},{"k":2,"c":"m","x":348,"y":10},{"k":2,"c":"m","x":369,"y":16},{"k":2,"c":"m","x":360,"y":28},{"k":2,"c":"m","x":354,"y":39},{"k":2,"c":"m","x":363,"y":43},{"k":2,"c":"m","x":384,"y":36},{"k":2,"c":"m","x":388,"y":50},{"k":2,"c":"m","x":398.6,"y":53},{"k":2,"c":"m","x":413.5,"y":41.6},{"k":2,"c":"m","x":437,"y":28},{"k":2,"c":"m","x":454,"y":30},{"k":2,"c":"m","x":461,"y":0},{"k":2,"c":"m","x":120,"y":0},
{"k":3,"c":"m","x":485,"y":0},{"k":3,"c":"m","x":486.5,"y":16},{"k":3,"c":"m","x":500,"y":19},{"k":3,"c":"m","x":500,"y":0},{"k":3,"c":"m","x":485,"y":0},
{"k":4,"c":"y","x":170,"y":0},{"k":4,"c":"y","x":171,"y":5},{"k":4,"c":"y","x":179.6,"y":14},{"k":4,"c":"y","x":190,"y":7.4},{"k":4,"c":"y","x":199.5,"y":3},{"k":4,"c":"y","x":200.5,"y":0},{"k":4,"c":"y","x":170,"y":0},
{"k":5,"c":"y","x":404.5,"y":24},{"k":5,"c":"y","x":409,"y":22},{"k":5,"c":"y","x":410.5,"y":10},{"k":5,"c":"y","x":418,"y":4.5},{"k":5,"c":"y","x":418,"y":0},{"k":5,"c":"y","x":405.5,"y":0},{"k":5,"c":"y","x":407,"y":10},{"k":5,"c":"y","x":404.5,"y":24},
{"k":6,"c":"m","x":438,"y":13},{"k":6,"c":"m","x":441.7,"y":12},{"k":6,"c":"m","x":443,"y":0},{"k":6,"c":"m","x":439.7,"y":0},{"k":6,"c":"m","x":438,"y":13},
{"k":7,"c":"m","x":205,"y":0},{"k":7,"c":"m","x":208,"y":3.5},{"k":7,"c":"m","x":211.5,"y":0},{"k":7,"c":"m","x":205,"y":0},
{"k":8,"c":"o","x":354,"y":37},{"k":8,"c":"o","x":363,"y":44},{"k":8,"c":"o","x":364,"y":40},{"k":8,"c":"o","x":356,"y":35},{"k":8,"c":"o","x":354,"y":37},
{"k":9,"c":"o","x":242,"y":52},{"k":9,"c":"o","x":252.5,"y":57},{"k":9,"c":"o","x":254,"y":54},{"k":9,"c":"o","x":245,"y":50},{"k":9,"c":"o","x":242,"y":52},
{"k":10,"c":"o","x":340.5,"y":6},{"k":10,"c":"o","x":345,"y":11},{"k":10,"c":"o","x":348,"y":6},{"k":10,"c":"o","x":343.5,"y":3},{"k":10,"c":"o","x":340.5,"y":6},
{"k":11,"c":"m","x":271,"y":28},{"k":11,"c":"m","x":276.5,"y":31},{"k":11,"c":"m","x":276.5,"y":25},{"k":11,"c":"m","x":272,"y":25},{"k":11,"c":"m","x":271,"y":28},
{"k":12,"c":"k","x":317.5,"y":0},{"k":12,"c":"k","x":315.6,"y":7.25},{"k":12,"c":"k","x":310.25,"y":12.6},{"k":12,"c":"k","x":303,"y":14.5},{"k":12,"c":"k","x":295.75,"y":12.6},{"k":12,"c":"k","x":290.4,"y":7.25},{"k":12,"c":"k","x":288.5,"y":0},{"k":12,"c":"k","x":317.5,"y":0},
{"k":13,"c":"w","x":315.2,"y":0},{"k":13,"c":"w","x":313.6,"y":6.1},{"k":13,"c":"w","x":309.1,"y":10.6},{"k":13,"c":"w","x":303,"y":12.2},{"k":13,"c":"w","x":296.9,"y":10.6},{"k":13,"c":"w","x":292.4,"y":6.1},{"k":13,"c":"w","x":290.8,"y":0},{"k":13,"c":"w","x":315.2,"y":0}]},
"hconcat":[
{"vconcat":[
{"width":429,"height":38,"data":{"name":"ax"},"mark":{"type":"rect","fill":"transparent"},"encoding":{}},
{"width":429,"height":428,"resolve":{"axis":{"x":"independent","y":"independent"}},"layer":[
{"data":{"name":"pA"},"transform":[{"filter":"datum.k<8"}],"mark":{"type":"line","clip":true,"stroke":"#111","strokeWidth":1.6},"encoding":{"x":{"field":"x","type":"quantitative","scale":{"domain":[-240,160],"nice":false,"zero":false},"axis":{"orient":"bottom","values":[-200,-100,0,100],"tickSize":-20,"labels":true,"domain":true,"title":"X (km)","titlePadding":13,"titleX":195}},"y":{"field":"y","type":"quantitative","scale":{"domain":[100,500],"nice":false,"zero":false},"axis":{"orient":"left","values":[100,200,300,400,500],"tickSize":-20,"labels":true,"labelPadding":39,"domain":true,"title":"Y (km)","titlePadding":15,"titleY":222}},"fill":{"field":"c","type":"nominal","legend":null,"scale":{"domain":["w","a","b","g","l","t","u","v","m","y","o","r","k"],"range":["#ffffff","#ccffff","#a6ffff","#a6ff8f","#c4ee20","#f0d840","#ffb400","#ff7a10","#ffc800","#ffff00","#ff8000","#ff0000","#000000"]}},"detail":{"field":"k"},"order":{"value":null}}},
{"data":{"name":"pA"},"transform":[{"filter":"datum.k>=8"}],"mark":{"type":"line","clip":true,"stroke":"#111","strokeWidth":1.6,"interpolate":"cardinal-closed","tension":0.3},"encoding":{"x":{"field":"x","type":"quantitative","scale":{"domain":[-240,160],"nice":false,"zero":false},"axis":{"orient":"bottom","values":[-150,-50,50,150],"tickSize":-10,"title":null}},"y":{"field":"y","type":"quantitative","scale":{"domain":[100,500],"nice":false,"zero":false},"axis":{"orient":"left","values":[150,250,350,450],"tickSize":-10,"title":null}},"fill":{"field":"c","type":"nominal","legend":null,"scale":{"domain":["w","a","b","g","l","t","u","v","m","y","o","r","k"],"range":["#ffffff","#ccffff","#a6ffff","#a6ff8f","#c4ee20","#f0d840","#ffb400","#ff7a10","#ffc800","#ffff00","#ff8000","#ff0000","#000000"]}},"detail":{"field":"k"},"order":{"value":null}}},
{"data":{"name":"ax"},"mark":{"type":"point","opacity":0},"encoding":{"x":{"field":"x","type":"quantitative","scale":{"domain":[-240,160],"nice":false,"zero":false},"axis":{"orient":"top","values":[-200,-100,0,100],"tickSize":-20,"domain":true,"title":"t=48178.34M","titleAnchor":"end","titlePadding":5}},"y":{"field":"y","type":"quantitative","scale":{"domain":[100,500],"nice":false,"zero":false},"axis":{"orient":"right","values":[100,200,300,400,500],"tickSize":-20,"domain":true,"title":null}}}},
{"data":{"name":"ax"},"mark":{"type":"point","opacity":0},"encoding":{"x":{"field":"x","type":"quantitative","scale":{"domain":[-240,160],"nice":false,"zero":false},"axis":{"orient":"top","values":[-150,-50,50,150],"tickSize":-10,"title":"Case A","titleAnchor":"start","titleX":8,"titleAlign":"left","titlePadding":5}},"y":{"field":"y","type":"quantitative","scale":{"domain":[100,500],"nice":false,"zero":false},"axis":{"orient":"right","values":[150,250,350,450],"tickSize":-10,"title":null}}}}]},
{"width":429,"height":196,"data":{"name":"ax"},"mark":{"type":"rect","fill":"transparent"},"encoding":{}},
{"width":429,"height":429,"resolve":{"axis":{"x":"independent","y":"independent"}},"layer":[
{"data":{"name":"pD"},"transform":[{"filter":"datum.k<15"}],"mark":{"type":"line","clip":true,"stroke":"#111","strokeWidth":1.8},"encoding":{"x":{"field":"x","type":"quantitative","scale":{"domain":[-240,160],"nice":false,"zero":false},"axis":{"orient":"bottom","values":[-200,-100,0,100],"tickSize":-20,"labels":true,"domain":true,"title":"X (km)","titlePadding":13,"titleX":195}},"y":{"field":"y","type":"quantitative","scale":{"domain":[100,500],"nice":false,"zero":false},"axis":{"orient":"left","values":[200,300,400],"tickSize":-20,"labels":true,"labelPadding":39,"labelExpr":"datum.value==300?'':datum.label","domain":true,"title":"Y (km)","titlePadding":15,"titleY":225}},"fill":{"field":"c","type":"nominal","legend":null,"scale":{"domain":["w","a","b","g","l","t","u","v","m","y","o","r","k"],"range":["#ffffff","#ccffff","#a6ffff","#a6ff8f","#c4ee20","#f0d840","#ffb400","#ff7a10","#ffc800","#ffff00","#ff8000","#ff0000","#000000"]}},"detail":{"field":"k"},"order":{"value":null}}},
{"data":{"name":"pD"},"transform":[{"filter":"datum.k>=15"}],"mark":{"type":"line","clip":true,"stroke":"#111","strokeWidth":1.8,"interpolate":"cardinal-closed","tension":0.3},"encoding":{"x":{"field":"x","type":"quantitative","scale":{"domain":[-240,160],"nice":false,"zero":false},"axis":{"orient":"bottom","values":[-150,-50,50,150],"tickSize":-10,"title":null}},"y":{"field":"y","type":"quantitative","scale":{"domain":[100,500],"nice":false,"zero":false},"axis":{"orient":"left","values":[150,250,350,450],"tickSize":-10,"title":null}},"fill":{"field":"c","type":"nominal","legend":null,"scale":{"domain":["w","a","b","g","l","t","u","v","m","y","o","r","k"],"range":["#ffffff","#ccffff","#a6ffff","#a6ff8f","#c4ee20","#f0d840","#ffb400","#ff7a10","#ffc800","#ffff00","#ff8000","#ff0000","#000000"]}},"detail":{"field":"k"},"order":{"value":null}}},
{"data":{"name":"ax"},"mark":{"type":"point","opacity":0},"encoding":{"x":{"field":"x","type":"quantitative","scale":{"domain":[-240,160],"nice":false,"zero":false},"axis":{"orient":"top","values":[-200,-100,0,100],"tickSize":-20,"domain":true,"title":"t=48178.34M","titleAnchor":"end","titlePadding":6}},"y":{"field":"y","type":"quantitative","scale":{"domain":[100,500],"nice":false,"zero":false},"axis":{"orient":"right","values":[200,300,400],"tickSize":-20,"domain":true,"title":null}}}},
{"data":{"name":"ax"},"mark":{"type":"point","opacity":0},"encoding":{"x":{"field":"x","type":"quantitative","scale":{"domain":[-240,160],"nice":false,"zero":false},"axis":{"orient":"top","values":[-150,-50,50,150],"tickSize":-10,"title":"Case A","titleAnchor":"start","titleX":8,"titleAlign":"left","titlePadding":6}},"y":{"field":"y","type":"quantitative","scale":{"domain":[100,500],"nice":false,"zero":false},"axis":{"orient":"right","values":[150,250,350,450],"tickSize":-10,"title":null}}}}]}
],"spacing":0,"bounds":"flush"},
{"vconcat":[
{"width":447,"height":40,"data":{"name":"ax"},"mark":{"type":"rect","fill":"transparent"},"encoding":{}},
{"width":447,"height":155,"resolve":{"axis":{"x":"independent","y":"independent"}},"layer":[
{"data":{"name":"pB"},"mark":{"type":"line","clip":true,"stroke":"#111","strokeWidth":1.6},"encoding":{"x":{"field":"x","type":"quantitative","scale":{"domain":[-240,160],"nice":false,"zero":false},"axis":{"orient":"bottom","values":[-200,0],"tickSize":-20,"labels":true,"domain":true,"title":"X (km)","titlePadding":16,"titleX":213}},"y":{"field":"y","type":"quantitative","scale":{"domain":[0,140],"nice":false},"axis":{"orient":"left","values":[0,100],"tickSize":-20,"labels":true,"labelPadding":36,"domain":true,"title":"Z (km)","titlePadding":6}},"fill":{"field":"c","type":"nominal","legend":null,"scale":{"domain":["w","a","b","g","l","t","u","v","m","y","o","r","k"],"range":["#ffffff","#ccffff","#a6ffff","#a6ff8f","#c4ee20","#f0d840","#ffb400","#ff7a10","#ffc800","#ffff00","#ff8000","#ff0000","#000000"]}},"detail":{"field":"k"},"order":{"value":null}}},
{"data":{"name":"ax"},"mark":{"type":"point","opacity":0},"encoding":{"x":{"field":"x","type":"quantitative","scale":{"domain":[-240,160],"nice":false,"zero":false},"axis":{"orient":"bottom","values":[-100,100],"tickSize":-10,"title":null}},"y":{"field":"y","type":"quantitative","scale":{"domain":[0,140],"nice":false},"axis":{"orient":"left","values":[50],"tickSize":-10,"title":null}}}},
{"data":{"name":"ax"},"mark":{"type":"point","opacity":0},"encoding":{"x":{"field":"x","type":"quantitative","scale":{"domain":[-240,160],"nice":false,"zero":false},"axis":{"orient":"top","values":[-200,0],"tickSize":-20,"domain":true,"title":"t=48178.34M","titleAnchor":"end","titlePadding":4}},"y":{"field":"y","type":"quantitative","scale":{"domain":[0,140],"nice":false},"axis":{"orient":"right","values":[0,100],"tickSize":-20,"domain":true,"title":null}}}},
{"data":{"name":"ax"},"mark":{"type":"point","opacity":0},"encoding":{"x":{"field":"x","type":"quantitative","scale":{"domain":[-240,160],"nice":false,"zero":false},"axis":{"orient":"top","values":[-100,100],"tickSize":-10,"title":"Case A","titleAnchor":"start","titleX":7,"titleAlign":"left","titlePadding":4}},"y":{"field":"y","type":"quantitative","scale":{"domain":[0,140],"nice":false},"axis":{"orient":"right","values":[50],"tickSize":-10,"title":null}}}}]},
{"width":447,"height":123,"data":{"name":"ax"},"mark":{"type":"rect","fill":"transparent"},"encoding":{}},
{"width":447,"height":156,"resolve":{"axis":{"x":"independent","y":"independent"}},"layer":[
{"data":{"name":"pC"},"mark":{"type":"line","clip":true,"stroke":"#111","strokeWidth":1.6},"encoding":{"x":{"field":"x","type":"quantitative","scale":{"domain":[100,500],"nice":false,"zero":false},"axis":{"orient":"bottom","values":[200,400],"tickSize":-20,"labels":true,"domain":true,"title":"Y (km)","titlePadding":3,"titleX":213}},"y":{"field":"y","type":"quantitative","scale":{"domain":[0,140],"nice":false},"axis":{"orient":"left","values":[0,100],"tickSize":-20,"labels":true,"labelPadding":36,"domain":true,"title":"Z (km)","titlePadding":6}},"fill":{"field":"c","type":"nominal","legend":null,"scale":{"domain":["w","a","b","g","l","t","u","v","m","y","o","r","k"],"range":["#ffffff","#ccffff","#a6ffff","#a6ff8f","#c4ee20","#f0d840","#ffb400","#ff7a10","#ffc800","#ffff00","#ff8000","#ff0000","#000000"]}},"detail":{"field":"k"},"order":{"value":null}}},
{"data":{"name":"ax"},"mark":{"type":"point","opacity":0},"encoding":{"x":{"field":"x","type":"quantitative","scale":{"domain":[100,500],"nice":false,"zero":false},"axis":{"orient":"bottom","values":[300],"tickSize":-10,"title":null}},"y":{"field":"y","type":"quantitative","scale":{"domain":[0,140],"nice":false},"axis":{"orient":"left","values":[50],"tickSize":-10,"title":null}}}},
{"data":{"name":"ax"},"mark":{"type":"point","opacity":0},"encoding":{"x":{"field":"x","type":"quantitative","scale":{"domain":[100,500],"nice":false,"zero":false},"axis":{"orient":"top","values":[200,400],"tickSize":-20,"domain":true,"title":null}},"y":{"field":"y","type":"quantitative","scale":{"domain":[0,140],"nice":false},"axis":{"orient":"right","values":[0,100],"tickSize":-20,"domain":true,"title":null}}}},
{"data":{"name":"ax"},"mark":{"type":"point","opacity":0},"encoding":{"x":{"field":"x","type":"quantitative","scale":{"domain":[100,500],"nice":false,"zero":false},"axis":{"orient":"top","values":[300],"tickSize":-10,"title":null}},"y":{"field":"y","type":"quantitative","scale":{"domain":[0,140],"nice":false},"axis":{"orient":"right","values":[50],"tickSize":-10,"title":null}}}}]},
{"width":447,"height":191,"data":{"name":"ax"},"mark":{"type":"rect","fill":"transparent"},"encoding":{}},
{"width":447,"height":156,"resolve":{"axis":{"x":"independent","y":"independent"}},"layer":[
{"data":{"name":"rE"},"mark":{"type":"line","clip":true,"fill":"#ff0000","stroke":null},"encoding":{"x":{"field":"x","type":"quantitative","scale":{"domain":[-240,160],"nice":false,"zero":false},"axis":{"orient":"bottom","values":[-200,0],"tickSize":-20,"labels":true,"domain":true,"title":"X (km)","titlePadding":15,"titleX":213}},"y":{"field":"y","type":"quantitative","scale":{"domain":[0,140],"nice":false},"axis":{"orient":"left","values":[0,100],"tickSize":-20,"labels":true,"labelPadding":36,"domain":true,"title":"Z (km)","titlePadding":6}},"detail":{"field":"k"},"order":{"value":null}}},
{"data":{"name":"pE"},"mark":{"type":"line","clip":true,"stroke":"#111","strokeWidth":1.8},"encoding":{"x":{"field":"x","type":"quantitative","scale":{"domain":[-240,160],"nice":false,"zero":false},"axis":{"orient":"bottom","values":[-100,100],"tickSize":-10,"title":null}},"y":{"field":"y","type":"quantitative","scale":{"domain":[0,140],"nice":false},"axis":{"orient":"left","values":[50],"tickSize":-10,"title":null}},"fill":{"field":"c","type":"nominal","legend":null,"scale":{"domain":["w","a","b","g","l","t","u","v","m","y","o","r","k"],"range":["#ffffff","#ccffff","#a6ffff","#a6ff8f","#c4ee20","#f0d840","#ffb400","#ff7a10","#ffc800","#ffff00","#ff8000","#ff0000","#000000"]}},"detail":{"field":"k"},"order":{"value":null}}},
{"data":{"name":"ax"},"mark":{"type":"point","opacity":0},"encoding":{"x":{"field":"x","type":"quantitative","scale":{"domain":[-240,160],"nice":false,"zero":false},"axis":{"orient":"top","values":[-200,0],"tickSize":-20,"domain":true,"title":"t=48178.34M","titleAnchor":"end","titlePadding":3}},"y":{"field":"y","type":"quantitative","scale":{"domain":[0,140],"nice":false},"axis":{"orient":"right","values":[0,100],"tickSize":-20,"domain":true,"title":null}}}},
{"data":{"name":"ax"},"mark":{"type":"point","opacity":0},"encoding":{"x":{"field":"x","type":"quantitative","scale":{"domain":[-240,160],"nice":false,"zero":false},"axis":{"orient":"top","values":[-100,100],"tickSize":-10,"title":"Case A","titleAnchor":"start","titleX":7,"titleAlign":"left","titlePadding":3}},"y":{"field":"y","type":"quantitative","scale":{"domain":[0,140],"nice":false},"axis":{"orient":"right","values":[50],"tickSize":-10,"title":null}}}}]},
{"width":447,"height":123,"data":{"name":"ax"},"mark":{"type":"rect","fill":"transparent"},"encoding":{}},
{"width":447,"height":158,"resolve":{"axis":{"x":"independent","y":"independent"}},"layer":[
{"data":{"name":"rF"},"mark":{"type":"line","clip":true,"fill":"#ff0000","stroke":null},"encoding":{"x":{"field":"x","type":"quantitative","scale":{"domain":[100,500],"nice":false,"zero":false},"axis":{"orient":"bottom","values":[200,400],"tickSize":-20,"labels":true,"domain":true,"title":"Y (km)","titlePadding":2,"titleX":213}},"y":{"field":"y","type":"quantitative","scale":{"domain":[0,140],"nice":false},"axis":{"orient":"left","values":[0,100],"tickSize":-20,"labels":true,"labelPadding":36,"domain":true,"title":"Z (km)","titlePadding":6}},"detail":{"field":"k"},"order":{"value":null}}},
{"data":{"name":"pF"},"mark":{"type":"line","clip":true,"stroke":"#111","strokeWidth":1.8},"encoding":{"x":{"field":"x","type":"quantitative","scale":{"domain":[100,500],"nice":false,"zero":false},"axis":{"orient":"bottom","values":[300],"tickSize":-10,"title":null}},"y":{"field":"y","type":"quantitative","scale":{"domain":[0,140],"nice":false},"axis":{"orient":"left","values":[50],"tickSize":-10,"title":null}},"fill":{"field":"c","type":"nominal","legend":null,"scale":{"domain":["w","a","b","g","l","t","u","v","m","y","o","r","k"],"range":["#ffffff","#ccffff","#a6ffff","#a6ff8f","#c4ee20","#f0d840","#ffb400","#ff7a10","#ffc800","#ffff00","#ff8000","#ff0000","#000000"]}},"detail":{"field":"k"},"order":{"value":null}}},
{"data":{"name":"ax"},"mark":{"type":"point","opacity":0},"encoding":{"x":{"field":"x","type":"quantitative","scale":{"domain":[100,500],"nice":false,"zero":false},"axis":{"orient":"top","values":[200,400],"tickSize":-20,"domain":true,"title":null}},"y":{"field":"y","type":"quantitative","scale":{"domain":[0,140],"nice":false},"axis":{"orient":"right","values":[0,100],"tickSize":-20,"domain":true,"title":null}}}},
{"data":{"name":"ax"},"mark":{"type":"point","opacity":0},"encoding":{"x":{"field":"x","type":"quantitative","scale":{"domain":[100,500],"nice":false,"zero":false},"axis":{"orient":"top","values":[300],"tickSize":-10,"title":null}},"y":{"field":"y","type":"quantitative","scale":{"domain":[0,140],"nice":false},"axis":{"orient":"right","values":[50],"tickSize":-10,"title":null}}}}]}
],"spacing":0,"bounds":"flush"}
],"spacing":64}
